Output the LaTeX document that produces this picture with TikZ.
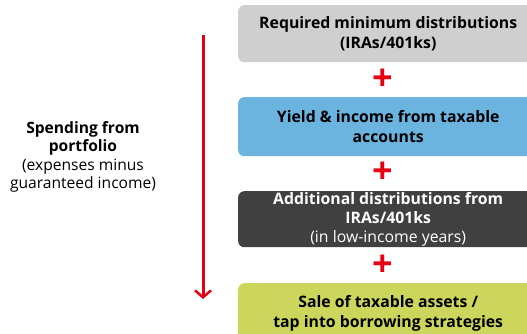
\documentclass[tikz,border=0pt]{standalone}
\usepackage{fontspec}
\setmainfont{Open Sans}
\usepackage{xcolor}
\definecolor{rmdgray}{HTML}{CFCFCF}
\definecolor{yieldblue}{HTML}{6CB4E0}
\definecolor{iradark}{HTML}{404040}
\definecolor{salegreen}{HTML}{CDD65C}
\definecolor{plusred}{HTML}{E60012}
\usetikzlibrary{arrows.meta}

\begin{document}
\begin{tikzpicture}[x=1pt, y=-1pt,
  box/.style={rounded corners=6pt, minimum width=300pt, inner sep=0pt, anchor=north west,
    align=center, font=\fontsize{15.8}{20.5}\selectfont\bfseries},
  plus/.style={text=plusred, inner sep=0pt, font=\fontsize{36}{36}\selectfont\bfseries}]
  \useasboundingbox (0,0) rectangle (527,333);
  \clip (0,0) rectangle (527,333);

  % the four sources, top to bottom
  \node[box, fill=rmdgray, minimum height=57pt] (rmd) at (238,5) {Required minimum distributions\\(IRAs/401ks)};
  \node[box, fill=yieldblue, minimum height=59pt] (yield) at (238,97) {Yield \& income from taxable\\accounts};
  \node[box, fill=iradark, text=white, minimum height=56pt, font=\fontsize{15.8}{19}\selectfont\bfseries] (extra) at (238,191)
    {Additional distributions from\\IRAs/401ks\\{\mdseries (in low-income years)}};
  \node[box, fill=salegreen, minimum height=60pt] (sale) at (238,283) {Sale of taxable assets /\\tap into borrowing strategies};

  \foreach \name/\ypos in {p1/80, p2/173, p3/266}
    \node[plus] (\name) at (383,\ypos) {+};

  % spending arrow
  \node[align=center, font=\fontsize{15.6}{18.5}\selectfont] (spend) at (83,157)
    {\textbf{Spending from}\\\textbf{portfolio}\\(expenses minus\\guaranteed income)};
  \coordinate (top) at (203,35);
  \coordinate (bot) at (203,299);
  \draw[plusred, line width=3pt, -{Straight Barb[length=7pt, width=16pt, line width=2.5pt]}] (top) -- (bot);
\end{tikzpicture}
\end{document}
